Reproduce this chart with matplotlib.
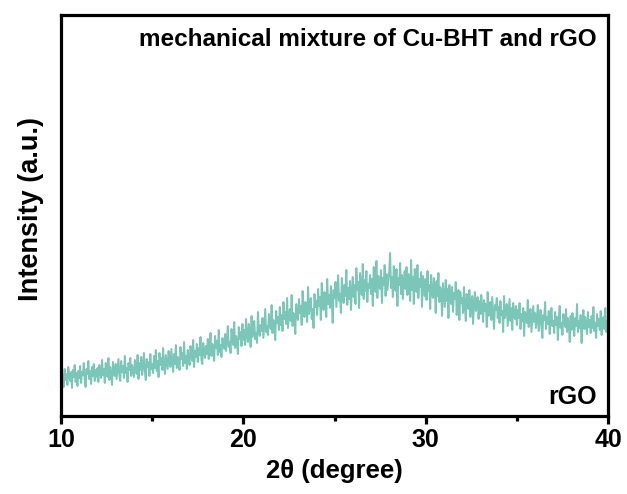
import numpy as np
import matplotlib
matplotlib.use("Agg")
import matplotlib.pyplot as plt
from matplotlib.ticker import MultipleLocator

plt.rcParams['font.family'] = ['Liberation Sans', 'DejaVu Sans']
plt.rcParams['font.weight'] = 'bold'

intensity = [
    33, 45, 38, 29, 47, 36, 42, 31, 49, 40, 35, 44, 28, 46, 39, 51, 34, 43, 30, 45,
    38, 50, 33, 44, 41, 53, 36, 29, 47, 42, 55, 37, 45, 32, 49, 40, 52, 35, 46, 39,
    48, 34, 51, 43, 38, 56, 41, 47, 33, 53, 45, 39, 58, 36, 49, 42, 31, 54, 44, 40,
    52, 37, 47, 57, 41, 35, 55, 44, 50, 38, 60, 43, 48, 34, 53, 46, 58, 40, 51, 45,
    39, 56, 48, 42, 61, 37, 53, 46, 59, 41, 50, 63, 44, 36, 57, 49, 54, 40, 62, 47,
    52, 43, 60, 48, 66, 45, 55, 39, 63, 51, 58, 46, 68, 50, 42, 61, 54, 47, 65, 53,
    49, 67, 56, 44, 62, 52, 71, 48, 59, 55, 46, 69, 57, 63, 50, 74, 53, 60, 47, 66,
    58, 51, 70, 62, 55, 76, 49, 65, 59, 72, 54, 68, 61, 79, 56, 52, 73, 64, 58, 70,
    62, 77, 57, 69, 83, 60, 72, 66, 55, 80, 68, 75, 61, 86, 64, 71, 59, 78, 73, 67,
    82, 65, 76, 90, 69, 74, 63, 87, 78, 71, 94, 68, 80, 75, 62, 89, 77, 84, 70, 92,
    76, 86, 71, 97, 81, 74, 92, 84, 69, 100, 79, 88, 95, 77, 83, 73, 104, 86, 80, 91,
    85, 98, 78, 93, 107, 84, 90, 81, 102, 95, 87, 111, 83, 96, 89, 76, 105, 93, 99, 86,
    109, 91, 101, 85, 114, 97, 104, 92, 118, 88, 100, 107, 95, 121, 90, 103, 98, 82, 112, 101,
    96, 117, 103, 110, 91, 125, 106, 99, 114, 108, 94, 129, 102, 111, 118, 97, 107, 88, 122, 109,
    115, 101, 127, 110, 119, 96, 133, 113, 106, 124, 117, 99, 137, 112, 121, 108, 130, 116, 93, 126,
    118, 134, 109, 125, 141, 115, 122, 103, 138, 127, 113, 131, 120, 146, 111, 128, 117, 135, 106, 124,
    139, 119, 131, 112, 148, 126, 134, 108, 143, 129, 121, 152, 117, 136, 125, 145, 114, 132, 128, 141,
    122, 137, 110, 149, 130, 124, 155, 118, 140, 133, 127, 146, 113, 138, 131, 151, 120, 142, 126, 135,
    144, 163, 128, 139, 119, 150, 134, 125, 147, 110, 138, 131, 153, 122, 141, 117, 136, 145, 127, 149,
    121, 142, 133, 115, 156, 126, 139, 112, 147, 130, 124, 151, 118, 137, 129, 144, 109, 140, 132, 120,
    137, 116, 145, 125, 131, 107, 141, 122, 118, 138, 127, 103, 135, 120, 143, 114, 129, 124, 100, 133,
    121, 109, 136, 115, 127, 98, 131, 118, 112, 129, 104, 123, 117, 134, 101, 120, 126, 96, 124, 113,
    118, 103, 129, 110, 95, 122, 114, 107, 126, 99, 116, 120, 92, 113, 124, 105, 111, 119, 97, 115,
    102, 121, 109, 94, 116, 105, 112, 89, 124, 100, 108, 114, 96, 119, 103, 87, 111, 106, 118, 98,
    109, 93, 115, 101, 105, 84, 120, 98, 106, 112, 90, 103, 117, 95, 108, 86, 113, 100, 97, 110,
    91, 106, 98, 113, 87, 102, 95, 108, 80, 104, 99, 93, 116, 89, 101, 107, 84, 97, 110, 94,
    103, 88, 98, 111, 85, 94, 106, 91, 78, 101, 96, 114, 87, 99, 92, 105, 82, 97, 108, 90,
    95, 83, 104, 91, 99, 76, 97, 110, 88, 93, 81, 102, 96, 89, 107, 84, 98, 92, 74, 100,
    86, 103, 93, 80, 98, 90, 112, 84, 95, 88, 101, 73, 94, 106, 87, 99, 91, 82, 104, 89,
    96, 83, 100, 88, 109, 85, 93, 78, 102, 90, 97, 86, 105, 81, 94, 99, 87, 108, 84, 95,
    91,
]
two_theta = np.linspace(10.0, 40.0, len(intensity))

x_ticks = [10, 20, 30, 40]
x_tick_labels = ['10', '20', '30', '40']
title_text = 'mechanical mixture of Cu-BHT and rGO'
sample_label = 'rGO'

fig = plt.figure(figsize=(6.27, 4.94), dpi=100)
ax = fig.add_axes([0.0973, 0.1579, 0.8724, 0.8117])

ax.plot(two_theta, intensity, color='#7cc6b9', lw=1.4)

ax.set_xlim(10, 40)
ax.set_ylim(0, 401)
ax.set_xticks(x_ticks)
ax.set_xticklabels(x_tick_labels)
ax.xaxis.set_minor_locator(MultipleLocator(5))
ax.set_yticks([])

for s in ax.spines.values():
    s.set_linewidth(2.3)

ax.tick_params(axis='x', which='major', direction='out', length=6, width=2.3,
               labelsize=18, pad=3)
ax.tick_params(axis='x', which='minor', direction='out', length=3.5, width=2.3)
for lbl in ax.get_xticklabels():
    lbl.set_fontweight('bold')

ax.set_xlabel('2θ (degree)', fontsize=18.5, fontweight='bold', labelpad=5)
ax.set_ylabel('Intensity (a.u.)', fontsize=19.5, fontweight='bold')
ax.yaxis.set_label_coords(-0.031, 0.515)

ax.text(0.98, 0.938, title_text, transform=ax.transAxes, ha='right', va='center',
        fontsize=17.5, fontweight='bold')
ax.text(0.98, 0.047, sample_label, transform=ax.transAxes, ha='right', va='center',
        fontsize=18, fontweight='bold')

fig.savefig('out.png', dpi=100)
